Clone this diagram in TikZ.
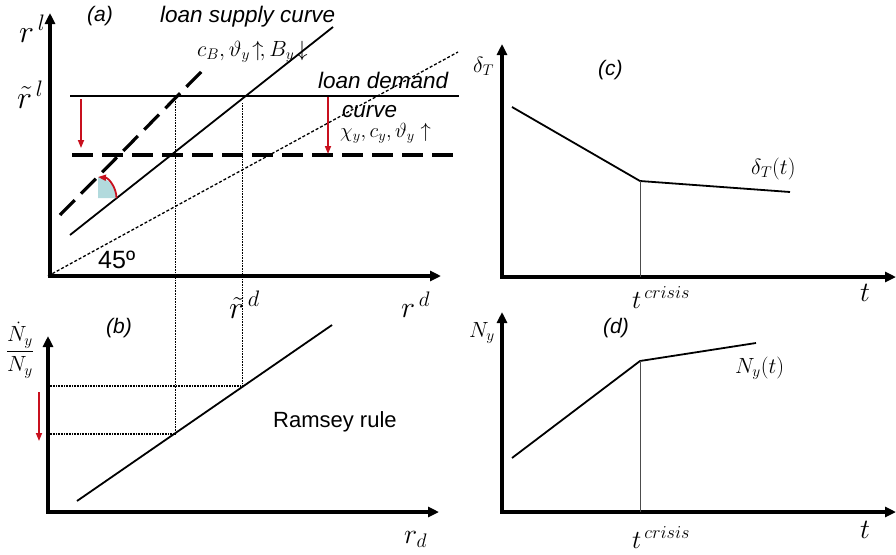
\RequirePackage{fix-cm}
\documentclass[tikz,border=0pt]{standalone}
\usepackage{amsmath}
\usepackage{fontspec}
\usepackage{tikz}
\usetikzlibrary{arrows.meta}
\newfontfamily\arialfont{Liberation Sans}
\definecolor{shiftred}{HTML}{C8101E}
\definecolor{tiltblue}{HTML}{B2DADD}
\tikzset{
  axisline/.style={draw=black, line width=3.6pt, -{Triangle[length=11pt,width=10pt]}},
  curveline/.style={draw=black, line width=1.8pt},                       % plotted curve
  shiftline/.style={draw=black, line width=3.2pt, dash pattern=on 21pt off 9pt},
  diagline/.style={draw=black, line width=1.3pt, dash pattern=on 3pt off 2pt},
  guide/.style={draw=black, line width=0.9pt, dash pattern=on 1pt off 0.6pt},
  crisisline/.style={draw=black!70, line width=1pt},
  redshift/.style={draw=shiftred, line width=1.6pt, -{Triangle[length=8pt,width=6pt]}},
  paneltag/.style={font=\arialfont\itshape\fontsize{21}{23}\selectfont, inner sep=0pt, anchor=base west},
  curvename/.style={font=\arialfont\itshape\fontsize{22.5}{25}\selectfont, inner sep=0pt, anchor=base west},
  sanslabel/.style={font=\arialfont\fontsize{22}{24}\selectfont, inner sep=0pt, anchor=base west},
  sym/.style={font=\fontsize{22}{24}\selectfont, inner sep=0pt, anchor=base west},
  bigsym/.style={font=\fontsize{30}{32}\selectfont, inner sep=0pt, anchor=base west},
}
\begin{document}
\begin{tikzpicture}[x=1pt, y=-1pt]
  \useasboundingbox (0,0) rectangle (896,554);
  % ---------------- Panel (a): loan market ----------------
  \coordinate (ao)  at (50,276);
  \coordinate (aoh) at (48.2,276);
  \coordinate (ay)  at (50,13);
  \coordinate (ax)  at (441,276);
  \draw[axisline] (ao) -- (ay);
  \draw[axisline] (aoh) -- (ax);
  \coordinate (s0) at (70,235);  \coordinate (s1) at (333,27);   % supply
  \coordinate (t0) at (60,215);  \coordinate (t1) at (205,68);   % tilted supply
  \coordinate (h0) at (48,276);  \coordinate (h1) at (458,52);   % 45 degree
  \coordinate (m0) at (70,96);   \coordinate (m1) at (459,96);   % demand
  \coordinate (n0) at (72,155);  \coordinate (n1) at (455,155);  % shifted demand
  \draw[curveline] (s0) -- (s1);
  \draw[shiftline] (t0) -- (t1);
  \draw[diagline] (h0) -- (h1);
  \draw[curveline, line width=1.5pt] (m0) -- (m1);
  \draw[shiftline] (n0) -- (n1);
  % rotation of the supply curve
  \coordinate (rc) at (98,198);
  \coordinate (ra) at (116.5,198);
  \coordinate (rb) at (98,177);
  \fill[tiltblue] (rc) -- (ra) .. controls (116.5,188) and (109,178) .. (rb) -- cycle;
  \draw[redshift, line width=1.8pt] (ra) .. controls (116.5,188) and (109,178) .. (rb);
  % downward shifts
  \coordinate (da0) at (81,99);   \coordinate (da1) at (81,148);
  \coordinate (db0) at (328,97);  \coordinate (db1) at (328,154);
  \draw[redshift] (da0) -- (da1);
  \draw[redshift] (db0) -- (db1);
  \node[paneltag]  (tga) at (87,21)   {(a)};
  \node[curvename] (lsc) at (160,23)  {loan supply curve};
  \node[curvename] (ldc) at (318,88)  {loan demand};
  \node[curvename] (ldd) at (342,117) {curve};
  \node[sym] (supp) at (197,56)  {$c_B,\vartheta_y\!\uparrow\!,B_y\!\downarrow$};
  \node[sym, font=\fontsize{20.5}{22}\selectfont] (demp) at (340,137) {$\chi_y,c_y,\vartheta_y\uparrow$};
  \node[sanslabel, font=\arialfont\fontsize{25}{27}\selectfont] (deg) at (98,268) {45º};
  \node[bigsym, font=\fontsize{32}{34}\selectfont] (rl)  at (19,42)   {$r^{\,l}$};
  \node[bigsym, font=\fontsize{32}{34}\selectfont] (rtl) at (17,108)  {$\tilde r^{\,l}$};
  \node[bigsym, font=\fontsize{32}{34}\selectfont] (rtd) at (229,318) {$\tilde r^{\,d}$};
  \node[bigsym] (rd) at (401,317) {$r^{\,d}$};
  % ---------------- Panel (b): Ramsey rule ----------------
  \coordinate (bo)  at (48,512);
  \coordinate (boh) at (46.2,512);
  \coordinate (by)  at (48,336);
  \coordinate (bx)  at (439,512);
  \draw[axisline] (bo) -- (by);
  \draw[axisline] (boh) -- (bx);
  \coordinate (q0) at (77,501);  \coordinate (q1) at (332,325);  % Ramsey line
  \draw[curveline] (q0) -- (q1);
  \coordinate (ga) at (175,96);  \coordinate (gb) at (175,434);
  \coordinate (gc) at (242,103); \coordinate (gd) at (242,386);
  \coordinate (ge) at (48,386);  \coordinate (gf) at (48,434);
  \draw[guide] (ga) -- (gb);
  \draw[guide] (gc) -- (gd);
  \draw[guide, line width=1.3pt] (ge) -- (gd);
  \draw[guide, line width=1.3pt] (gf) -- (gb);
  \coordinate (dc0) at (39,392);  \coordinate (dc1) at (39,441);
  \draw[redshift] (dc0) -- (dc1);
  \node[paneltag]  (tgb) at (106,333) {(b)};
  \node[sanslabel] (ram) at (273,427) {Ramsey rule};
  \node[sym, anchor=center] (gy) at (20,350) {$\dfrac{\dot N_y}{N_y}$};
  \node[bigsym, font=\fontsize{28}{30}\selectfont] (rsd) at (404,543) {$r_d$};
  % ---------------- Panel (c): discount rate ----------------
  \coordinate (co)  at (502,277);
  \coordinate (coh) at (500.2,277);
  \coordinate (cy)  at (502,44);
  \coordinate (cx)  at (896,277);
  \draw[axisline] (co) -- (cy);
  \draw[axisline] (coh) -- (cx);
  \coordinate (c0) at (512,107); \coordinate (c1) at (640,181); \coordinate (c2) at (790,192);
  \coordinate (cb) at (640,277);
  \draw[curveline] (c0) -- (c1) -- (c2);
  \draw[crisisline] (c1) -- (cb);
  \node[paneltag] (tgc) at (598,75) {(c)};
  \node[sym] (dl)  at (473,72)  {$\delta_T$};
  \node[sym] (dlt) at (751,174) {$\delta_T(t)$};
  \node[bigsym, font=\fontsize{26}{28}\selectfont] (tc1) at (632,308) {$t^{\,crisis}$};
  \node[bigsym, font=\fontsize{28}{30}\selectfont] (tt1) at (860,301) {$t$};
  % ---------------- Panel (d): population ----------------
  \coordinate (do)  at (502,512);
  \coordinate (doh) at (500.2,512);
  \coordinate (dy)  at (502,312);
  \coordinate (dx)  at (896,512);
  \draw[axisline] (do) -- (dy);
  \draw[axisline] (doh) -- (dx);
  \coordinate (p0) at (512,458); \coordinate (p1) at (640,361); \coordinate (p2) at (756,343);
  \coordinate (pb) at (640,512);
  \draw[curveline] (p0) -- (p1) -- (p2);
  \draw[crisisline] (p1) -- (pb);
  \node[paneltag] (tgd) at (603,333) {(d)};
  \node[sym] (ny)  at (469,337) {$N_y$};
  \node[sym] (nyt) at (735,373) {$N_y(t)$};
  \node[bigsym, font=\fontsize{26}{28}\selectfont] (tc2) at (632,548) {$t^{\,crisis}$};
  \node[bigsym, font=\fontsize{28}{30}\selectfont] (tt2) at (860,538) {$t$};
\end{tikzpicture}
\end{document}
